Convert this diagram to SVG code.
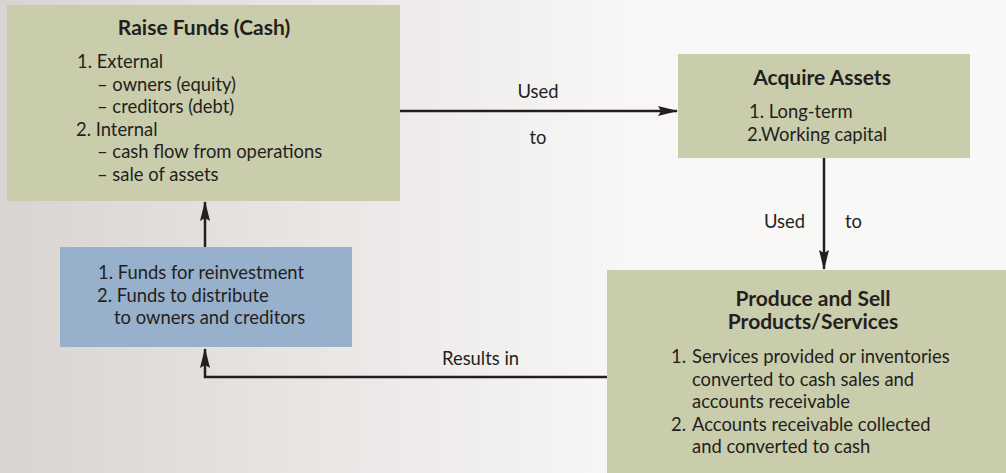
<svg xmlns="http://www.w3.org/2000/svg" width="1006" height="473" viewBox="0 0 1006 473">
  <defs>
    <linearGradient id="bg" x1="0" y1="0" x2="1" y2="0">
      <stop offset="0" stop-color="#d9d4d2"/>
      <stop offset="0.62" stop-color="#f8f7f6"/>
      <stop offset="1" stop-color="#f9f9f8"/>
    </linearGradient>
    <marker id="arrow" viewBox="0 0 20 10" refX="19" refY="5" markerWidth="20" markerHeight="10" markerUnits="userSpaceOnUse" orient="auto">
      <path d="M0,0 L20,5 L0,10 L3,5 Z" fill="#231f20"/>
    </marker>
    <style>
      .box-green { fill: #cacdab; }
      .box-blue { fill: #97b0cc; }
      .t { font-family: Lato, "Liberation Sans", sans-serif; font-size: 18.4px; fill: #231f20; }
      .title { font-family: Lato, "Liberation Sans", sans-serif; font-size: 21px; font-weight: bold; fill: #231f20; }
      .mid { text-anchor: middle; }
      .conn { fill: none; stroke: #231f20; stroke-width: 2.5; }
    </style>
  </defs>

  <rect width="1006" height="473" fill="url(#bg)"/>

  <!-- Raise Funds node -->
  <g id="raise-funds">
    <rect class="box-green" x="7" y="5" width="393" height="196"/>
    <text class="title mid" x="204" y="35">Raise Funds (Cash)</text>
    <text class="t" x="77" y="68">1. External</text>
    <text class="t" x="97" y="91">– owners (equity)</text>
    <text class="t" x="97" y="113">– creditors (debt)</text>
    <text class="t" x="76" y="136">2. Internal</text>
    <text class="t" x="97" y="158">– cash flow from operations</text>
    <text class="t" x="97" y="181">– sale of assets</text>
  </g>

  <!-- Acquire Assets node -->
  <g id="acquire-assets">
    <rect class="box-green" x="678" y="54" width="292" height="104"/>
    <text class="title mid" x="822" y="85">Acquire Assets</text>
    <text class="t" x="749" y="118">1. Long-term</text>
    <text class="t" x="747" y="141">2.Working capital</text>
  </g>

  <!-- Produce and Sell node -->
  <g id="produce-sell">
    <rect class="box-green" x="607" y="270" width="399" height="203"/>
    <text class="title mid" x="813" y="306">Produce and Sell</text>
    <text class="title mid" x="813" y="329">Products/Services</text>
    <text class="t" x="671" y="363">1.</text>
    <text class="t" x="692" y="363">Services provided or inventories</text>
    <text class="t" x="692" y="386">converted to cash sales and</text>
    <text class="t" x="692" y="408">accounts receivable</text>
    <text class="t" x="671" y="431">2.</text>
    <text class="t" x="692" y="431">Accounts receivable collected</text>
    <text class="t" x="692" y="453">and converted to cash</text>
  </g>

  <!-- Funds node -->
  <g id="funds">
    <rect class="box-blue" x="60" y="247" width="292" height="100"/>
    <text class="t" x="98" y="279">1. Funds for reinvestment</text>
    <text class="t" x="97" y="302">2. Funds to distribute</text>
    <text class="t" x="114" y="324">to owners and creditors</text>
  </g>

  <!-- Connectors -->
  <g id="connectors">
    <line class="conn" x1="400" y1="111" x2="677" y2="111" marker-end="url(#arrow)"/>
    <text class="t mid" x="538" y="98">Used</text>
    <text class="t mid" x="538" y="144">to</text>

    <line class="conn" x1="824" y1="158" x2="824" y2="269" marker-end="url(#arrow)"/>
    <text class="t" x="764" y="228">Used</text>
    <text class="t" x="845" y="228">to</text>

    <polyline class="conn" points="607,377 205,377 205,349" marker-end="url(#arrow)"/>
    <text class="t" x="442" y="365">Results in</text>

    <line class="conn" x1="205" y1="247" x2="205" y2="202" marker-end="url(#arrow)"/>
  </g>
</svg>
